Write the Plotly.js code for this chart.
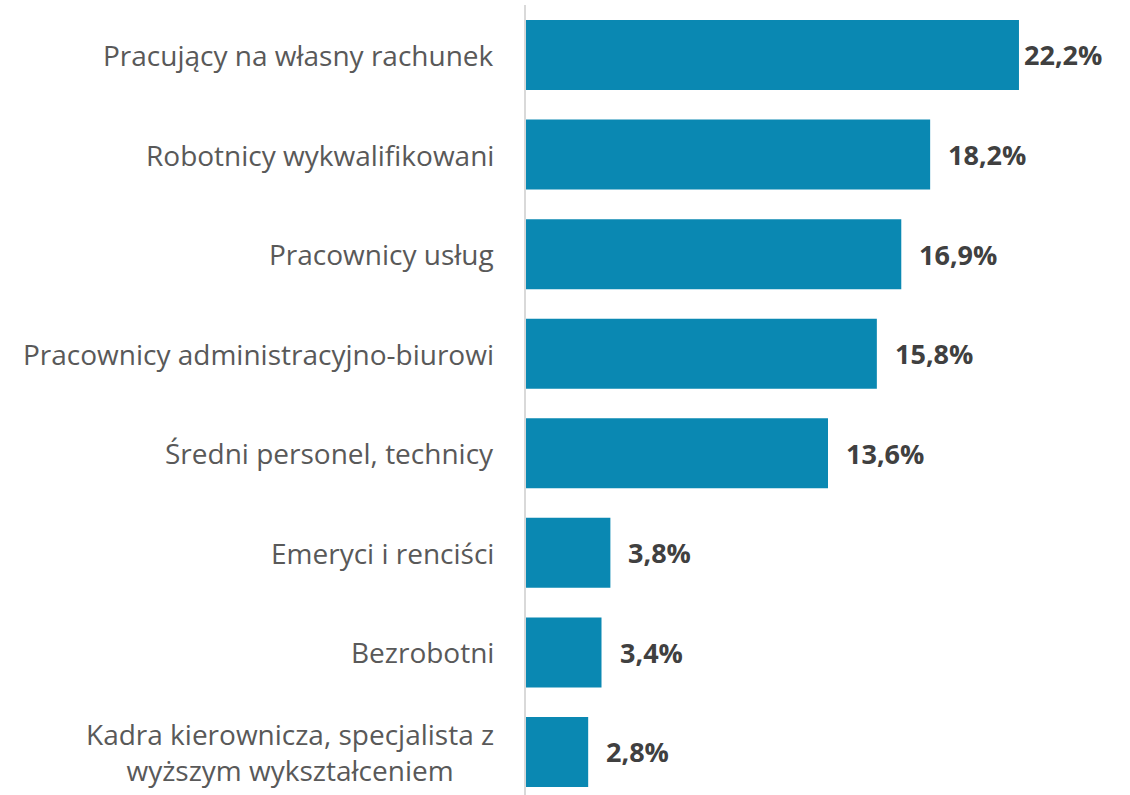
<!DOCTYPE html>
<html>
<head>
<meta charset="utf-8">
<script src="https://cdn.plot.ly/plotly-3.0.1.min.js"></script>
<style>html,body{margin:0;padding:0;background:#fff;}#chart{width:1130px;height:795px;}</style>
</head>
<body>
<div id="chart"></div>
<script>
const categories = [
  "Pracujący na własny rachunek",
  "Robotnicy wykwalifikowani",
  "Pracownicy usług",
  "Pracownicy administracyjno-biurowi",
  "Średni personel, technicy",
  "Emeryci i renciści",
  "Bezrobotni",
  "Kadra kierownicza, specjalista z<br>wyższym wykształceniem"
];
const values = [22.2, 18.2, 16.9, 15.8, 13.6, 3.8, 3.4, 2.8];
const valueLabels = ["22,2%", "18,2%", "16,9%", "15,8%", "13,6%", "3,8%", "3,4%", "2,8%"];

const idx = categories.map((_, i) => i);
const font = "'Open Sans', 'Noto Sans', sans-serif";

const trace = {
  type: "bar",
  orientation: "h",
  y: idx,
  x: values,
  width: 0.703,
  marker: {color: "#0a88b2"},
  hoverinfo: "skip"
};

const annotations = [];
categories.forEach((c, i) => {
  annotations.push({
    xref: "paper", yref: "y", x: 0, y: i,
    xanchor: "right", yanchor: "middle", align: "center",
    xshift: -30,
    text: c, showarrow: false,
    font: {family: font, size: 28, color: "#595959"}
  });
  annotations.push({
    xref: "x", yref: "y", x: values[i], y: i,
    xanchor: "left", yanchor: "middle",
    xshift: values[i] > 20 ? 3 : 16,
    text: valueLabels[i], showarrow: false,
    font: {family: font, size: 27, color: "#404040", weight: 700}
  });
});

const layout = {
  width: 1130, height: 795,
  margin: {l: 526, r: 0, t: 5, b: 0},
  paper_bgcolor: "#fff", plot_bgcolor: "#fff",
  showlegend: false,
  xaxis: {range: [0, 27.2], showgrid: false, zeroline: false, showticklabels: false, showline: false, fixedrange: true},
  yaxis: {range: [7.432, -0.502], showgrid: false, zeroline: false, showticklabels: false,
          showline: true, linecolor: "#d9d9d9", linewidth: 2, fixedrange: true},
  annotations: annotations
};

Plotly.newPlot("chart", [trace], layout, {displayModeBar: false, staticPlot: true});
</script>
</body>
</html>
